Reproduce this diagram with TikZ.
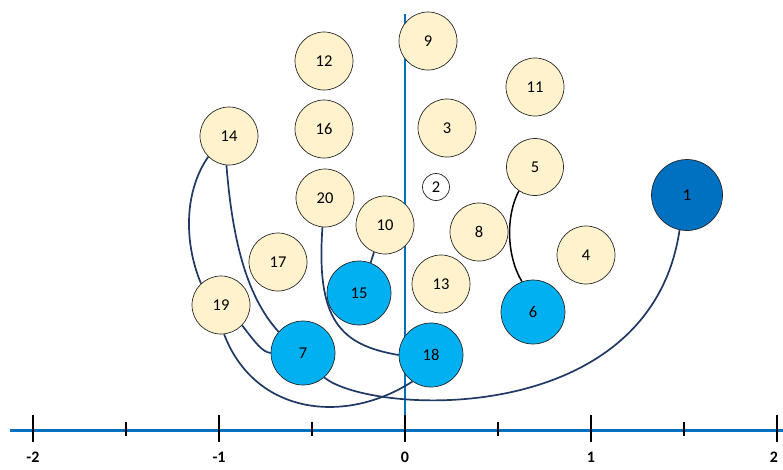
\documentclass[tikz,border=0pt]{standalone}
\usepackage{fontspec}
\setmainfont{Carlito}
\definecolor{lightfill}{HTML}{FFF2CC}
\definecolor{brightblue}{HTML}{00B0F0}
\definecolor{darkblue}{HTML}{0070C0}
\definecolor{axisblue}{HTML}{0070C0}
\definecolor{navy}{HTML}{1F3864}
\tikzset{
  ball/.style={circle, draw=black!85, line width=0.7pt, inner sep=0pt, font=\fontsize{16.5}{18}\selectfont},
  light/.style={ball, fill=lightfill, minimum size=58pt},
  bright/.style={ball, fill=brightblue, minimum size=64pt},
  dark/.style={ball, fill=darkblue, minimum size=71pt},
  tiny/.style={ball, fill=white, minimum size=27pt},
  link/.style={navy, line width=1.7pt},
  blacklink/.style={black, line width=1.5pt},
  axisline/.style={axisblue, line width=3pt},
  majortick/.style={black, line width=1.4pt},
  minortick/.style={black, line width=1.2pt},
  ticklabel/.style={font=\bfseries\fontsize{16}{17}\selectfont, inner sep=0pt}
}
\begin{document}
\begin{tikzpicture}[x=1pt, y=-1pt]
\useasboundingbox (0,0) rectangle (783,469);
% axes
\coordinate (xa) at (10,430);
\coordinate (xb) at (783,430);
\coordinate (ya) at (405,14);
\coordinate (yb) at (405,430);
\draw[axisline] (xa) -- (xb);
\draw[axisblue, line width=2.4pt] (ya) -- (yb);
\foreach \x/\l in {33/-2, 219/-1, 405/0, 591/1, 774/2} {
  \coordinate (mt\x a) at (\x,415);
  \coordinate (mt\x b) at (\x,442);
  \node[ticklabel] (lab\x) at (\x,457.5) {\l};
}
\foreach \x in {33, 219, 405, 591, 777} {
  \coordinate (mt\x a) at (\x,415);
  \coordinate (mt\x b) at (\x,442);
  \draw[majortick] (mt\x a) -- (mt\x b);
}
\foreach \x in {126, 312, 498, 684} {
  \coordinate (nt\x a) at (\x,422);
  \coordinate (nt\x b) at (\x,436);
  \draw[minortick] (nt\x a) -- (nt\x b);
}
% nodes
\node[light] (n9) at (428,41) {9};
\node[light] (n12) at (324,61) {12};
\node[light] (n11) at (535,87) {11};
\node[light] (n14) at (229,136) {14};
\node[light] (n16) at (324,129) {16};
\node[light] (n3) at (447,128) {3};
\node[light, minimum size=57pt] (n5) at (535,167) {5};
\node[tiny] (n2) at (436,187) {2};
\node[dark] (n1) at (687,195) {1};
\node[light] (n20) at (325,198) {20};
\node[light] (n10) at (385,225) {10};
\node[light] (n8) at (479,232) {8};
\node[light] (n4) at (586,255) {4};
\node[light] (n17) at (278,262) {17};
\node[bright] (n15) at (359,293) {15};
\node[light] (n13) at (441,284) {13};
\node[bright] (n6) at (533,312) {6};
\node[light] (n19) at (221,305) {19};
\node[bright] (n7) at (303,353) {7};
\node[bright] (n18) at (431,355) {18};
% connectors
\draw[link] (n14.225) .. controls (185,190) and (183,240) .. (n19.133);
\draw[link] (n14.265) .. controls (232,235) and (245,295) .. (n7.139);
\draw[link] (n19.316) .. controls (255,342) and (262,352) .. (n7.180);
\draw[link] (n19.276) .. controls (255,415) and (345,425) .. (n18.235);
\draw[link] (n20.265) .. controls (316,320) and (340,345) .. (n18.180);
\draw[link] (n10.248) -- (n15.69);
\draw[link] (n7.311) .. controls (370,415) and (650,430) .. (n1.258);
\draw[blacklink] (n5.236) .. controls (506,215) and (506,255) .. (n6.110);
\end{tikzpicture}
\end{document}
